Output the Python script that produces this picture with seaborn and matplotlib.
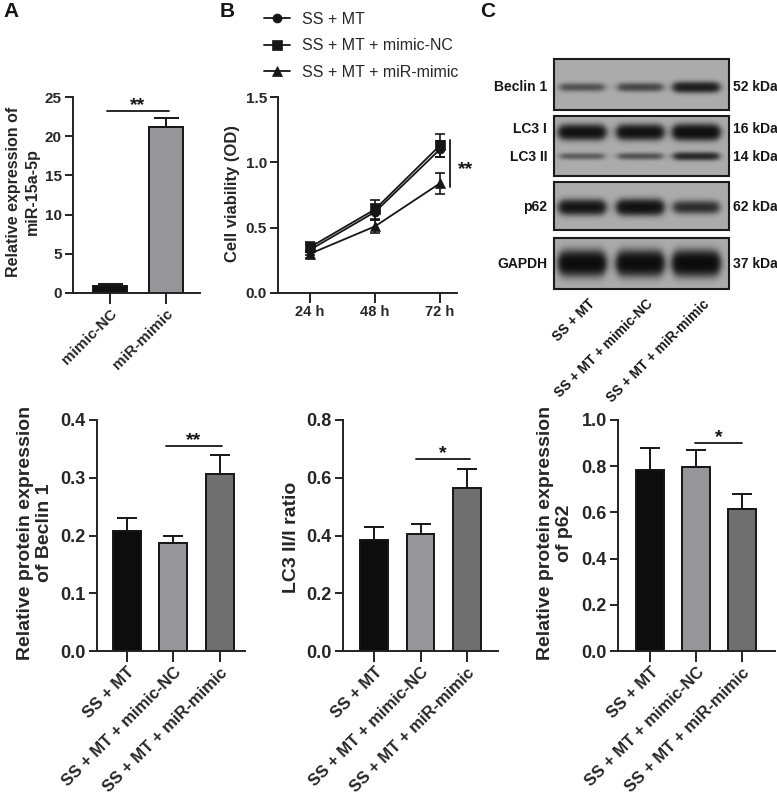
import numpy as np
import pandas as pd
import matplotlib
matplotlib.use("Agg")
import matplotlib.pyplot as plt
import seaborn as sns
from matplotlib.patches import Rectangle

# ---------------- data ----------------
a_groups = ["mimic-NC", "miR-mimic"]
a_mean = [0.9, 21.2]
a_err = [0.2, 1.1]

b_times = ["24 h", "48 h", "72 h"]
b_series = ["SS + MT", "SS + MT + mimic-NC", "SS + MT + miR-mimic"]
b_mt = [0.33, 0.62, 1.10]
b_mt_err = [0.04, 0.06, 0.06]
b_nc = [0.35, 0.64, 1.13]
b_nc_err = [0.04, 0.07, 0.09]
b_mimic = [0.30, 0.51, 0.84]
b_mimic_err = [0.03, 0.05, 0.08]

c_groups = ["SS + MT", "SS + MT + mimic-NC", "SS + MT + miR-mimic"]
beclin_mean = [0.207, 0.187, 0.307]
beclin_err = [0.023, 0.013, 0.033]
lc3_mean = [0.385, 0.405, 0.565]
lc3_err = [0.045, 0.035, 0.065]
p62_mean = [0.785, 0.795, 0.615]
p62_err = [0.095, 0.075, 0.065]

blot_rows = ["Beclin 1", "LC3 I", "LC3 II", "p62", "GAPDH"]
blot_kda = ["52 kDa", "16 kDa", "14 kDa", "62 kDa", "37 kDa"]
band_beclin = [0.30, 0.36, 0.75]
band_lc3i = [1.0, 1.0, 1.1]
band_lc3ii = [0.25, 0.30, 0.60]
band_p62 = [0.90, 1.00, 0.55]
band_gapdh = [1.2, 1.2, 1.25]

# ---------------- style ----------------
sns.set_theme(style="ticks")
plt.rcParams["font.family"] = ["Liberation Sans", "DejaVu Sans"]
plt.rcParams["font.weight"] = "bold"
plt.rcParams["axes.labelweight"] = "bold"
INK = "#161616"

W, H = 777, 801
fig = plt.figure(figsize=(W / 100, H / 100), dpi=100)


def add_ax(l, t, r, b):
    return fig.add_axes([l / W, 1 - b / H, (r - l) / W, (b - t) / H])


def fpos(x, y):
    return x / W, 1 - y / H


def style_axes(ax, ytick_fs):
    sns.despine(ax=ax)
    for s in ["left", "bottom"]:
        ax.spines[s].set_linewidth(1.4)
        ax.spines[s].set_color("#222222")
    ax.tick_params(axis="both", width=1.4, length=6, color="#222222",
                   labelsize=ytick_fs, pad=2)
    for lab in ax.get_yticklabels():
        lab.set_fontweight("bold")
    ax.set_xlabel("")
    ax.set_ylabel("")


def bar_panel(ax, groups, means, errs, colors, xlim, ylim, yticks, yfmt,
              width, capsize, ytick_fs, xtick_fs):
    df = pd.DataFrame({"group": groups, "value": means})
    sns.barplot(data=df, x="group", y="value", hue="group", palette=colors,
                legend=False, width=width, edgecolor=INK, linewidth=1.4,
                saturation=1, ax=ax)
    ax.errorbar(groups, means, yerr=[np.zeros(len(means)), errs], fmt="none",
                ecolor=INK, elinewidth=1.4, capsize=capsize, capthick=1.4,
                zorder=3)
    ax.set_xlim(*xlim)
    ax.set_ylim(*ylim)
    ax.set_yticks(yticks)
    ax.set_yticklabels([yfmt.format(v) for v in yticks])
    style_axes(ax, ytick_fs)
    ax.set_xticks(range(len(groups)))
    ax.set_xticklabels(groups, rotation=45, ha="right", rotation_mode="anchor",
                       fontsize=xtick_fs, fontweight="bold")
    ax.tick_params(axis="x", length=8)


def sig_h(ax, x0, x1, y, txt, fs=14):
    ax.plot([x0, x1], [y, y], color=INK, lw=1.3, clip_on=False)
    ax.annotate(txt, xy=((x0 + x1) / 2, y), xytext=(0, 1),
                textcoords="offset points", ha="center", va="baseline",
                fontsize=fs, fontweight="bold", color=INK)


# ---------------- panel A ----------------
axA = add_ax(73, 97, 200, 293)
bar_panel(axA, a_groups, a_mean, a_err, ["#111111", "#95959a"],
          (-0.66, 1.61), (0, 25), [0, 5, 10, 15, 20, 25], "{:.0f}",
          0.62, 9, 11, 11)
sig_h(axA, -0.05, 1.05, 23.2, "**")
fig.text(*fpos(23, 192), "Relative expression of\nmiR-15a-5p", rotation=90,
         ha="center", va="center", fontsize=11.5, fontweight="bold",
         linespacing=1.25)

# ---------------- panel B ----------------
axB = add_ax(278, 97, 457, 293)
df_b = pd.DataFrame({
    "time": b_times * 3,
    "od": b_mt + b_nc + b_mimic,
    "group": [s for s in b_series for _ in b_times],
})
sns.lineplot(data=df_b, x="time", y="od", style="group", style_order=b_series,
             markers={"SS + MT": "o", "SS + MT + mimic-NC": "s",
                      "SS + MT + miR-mimic": "^"},
             dashes=False, color=INK, markersize=6.5, linewidth=1.3,
             markeredgecolor=INK, markeredgewidth=0.5, ax=axB)
for vals, errs in [(b_mt, b_mt_err), (b_nc, b_nc_err), (b_mimic, b_mimic_err)]:
    axB.errorbar(b_times, vals, yerr=errs, fmt="none", ecolor=INK,
                 elinewidth=1.2, capsize=3.5, capthick=1.2, zorder=3)
handles, labels = axB.get_legend_handles_labels()
axB.legend(handles, labels, loc="upper left",
           bbox_to_anchor=fpos(264, 12), bbox_transform=fig.transFigure,
           frameon=False, prop={"weight": "normal", "size": 11.5},
           handlelength=1.6, handletextpad=0.75, labelspacing=0.72,
           borderpad=0, borderaxespad=0)
axB.set_xlim(-0.49, 2.26)
axB.set_ylim(0, 1.5)
axB.set_yticks([0, 0.5, 1.0, 1.5])
axB.set_yticklabels(["0.0", "0.5", "1.0", "1.5"])
style_axes(axB, 11)
axB.set_xticks(range(len(b_times)))
axB.set_xticklabels(b_times, fontsize=10.5, fontweight="bold")
axB.tick_params(axis="x", length=7)
axB.plot([2.15, 2.15], [0.81, 1.17], color=INK, lw=1.3, clip_on=False)
axB.annotate("**", xy=(2.15, 0.99), xytext=(6, -4), textcoords="offset points",
             ha="left", va="center", fontsize=14, fontweight="bold",
             color=INK, annotation_clip=False)
fig.text(*fpos(233, 193), "Cell viability (OD)", rotation=90, ha="center",
         va="center", fontsize=12, fontweight="bold")

# ---------------- panel C blot ----------------
axW = add_ax(540, 55, 777, 340)
axW.set_xlim(540, 777)
axW.set_ylim(340, 55)
axW.axis("off")
lane_x = [582, 640, 696]
bx0, bx1 = 554, 729
boxes = [
    (59, 110, [(87, 3.2, band_beclin)]),
    (116, 176, [(132, 4.0, band_lc3i), (156, 2.6, band_lc3ii)]),
    (182, 230, [(207, 4.2, band_p62)]),
    (238, 289, [(263, 6.0, band_gapdh)]),
]
bg = 0.655
for y0, y1, bands in boxes:
    xs = np.arange(bx0, bx1, 0.5)
    ys = np.arange(y0, y1, 0.5)
    X, Y = np.meshgrid(xs, ys)
    dens = np.zeros_like(X)
    for yc, sig, inten in bands:
        for lx, a in zip(lane_x, inten):
            hx = 1 / (1 + np.exp((np.abs(X - lx) - 21.5) / 2.2))
            s = sig * (0.75 + 0.35 * min(a, 1.2))
            vy = np.exp(-0.5 * ((Y - yc) / s) ** 2)
            dens += a * hx * vy
    img = bg * np.exp(-2.6 * dens) + 0.02
    axW.imshow(img, cmap="gray", vmin=0, vmax=1, aspect="auto",
               interpolation="bilinear", extent=[bx0, bx1, y1, y0],
               origin="upper", zorder=1)
    axW.add_patch(Rectangle((bx0, y0), bx1 - bx0, y1 - y0, fill=False,
                            ec="#1a1a1a", lw=1.5, zorder=2))
row_y = [87, 129, 157, 207, 264]
for name, kda, yy in zip(blot_rows, blot_kda, row_y):
    axW.text(547, yy, name, ha="right", va="center", fontsize=10,
             fontweight="bold", color=INK)
    axW.text(733, yy, kda, ha="left", va="center", fontsize=10,
             fontweight="bold", color=INK)
for lx, lab in zip(lane_x, c_groups):
    axW.text(lx + 6, 297, lab, rotation=45, ha="right", va="top",
             rotation_mode="anchor", fontsize=9.8, fontweight="bold", color=INK)

# ---------------- bottom panels ----------------
cols3 = ["#0d0d0d", "#95959a", "#6f6f6f"]
axD = add_ax(97, 420, 245, 651)
bar_panel(axD, c_groups, beclin_mean, beclin_err, cols3, (-0.645, 2.54),
          (0, 0.4), [0, 0.1, 0.2, 0.3, 0.4], "{:.1f}", 0.6, 7, 13, 12)
sig_h(axD, 0.83, 2.04, 0.355, "**")
fig.text(*fpos(35, 533), "Relative protein expression\nof Beclin 1",
         rotation=90, ha="center", va="center", fontsize=14,
         fontweight="bold", linespacing=1.15)

axE = add_ax(343, 420, 498, 651)
bar_panel(axE, c_groups, lc3_mean, lc3_err, cols3, (-0.67, 2.67),
          (0, 0.8), [0, 0.2, 0.4, 0.6, 0.8], "{:.1f}", 0.6, 7, 13, 12)
sig_h(axE, 0.91, 2.06, 0.665, "*")
fig.text(*fpos(292, 537), "LC3 II/I ratio", rotation=90, ha="center",
         va="center", fontsize=14, fontweight="bold")

axF = add_ax(618, 420, 775, 651)
bar_panel(axF, c_groups, p62_mean, p62_err, cols3, (-0.70, 2.72),
          (0, 1.0), [0, 0.2, 0.4, 0.6, 0.8, 1.0], "{:.1f}", 0.6, 7, 13, 12)
sig_h(axF, 0.98, 2.0, 0.90, "*")
fig.text(*fpos(555, 533), "Relative protein expression\nof p62",
         rotation=90, ha="center", va="center", fontsize=14,
         fontweight="bold", linespacing=1.15)

# ---------------- panel letters ----------------
for letter, x in [("A", 3), ("B", 220), ("C", 480)]:
    fig.text(*fpos(x, 2), letter, ha="left", va="top", fontsize=15,
             fontweight="bold", color=INK)

fig.savefig("out.png", dpi=100, facecolor="white")
